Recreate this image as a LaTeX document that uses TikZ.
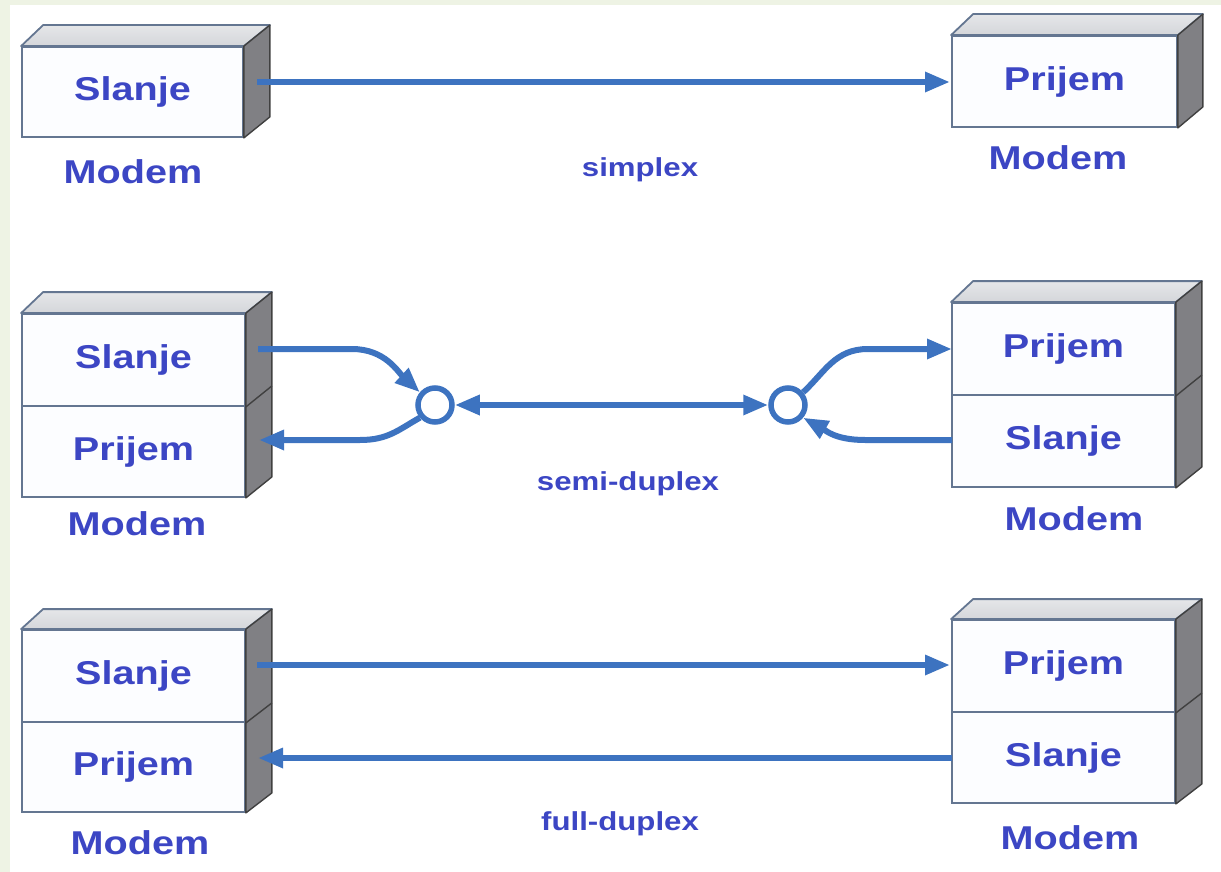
\documentclass[tikz,border=0pt]{standalone}
\usepackage{fontspec}
\setmainfont{Liberation Sans}
\newfontfamily\lblfont[FakeStretch=1.2]{Liberation Sans}
\usetikzlibrary{arrows.meta,calc}
\definecolor{textblue}{RGB}{60,70,196}
\definecolor{lineblue}{RGB}{61,115,192}
\definecolor{outline}{RGB}{100,118,145}
\definecolor{topc}{RGB}{212,214,218}
\definecolor{sidec}{RGB}{128,128,132}
\definecolor{frontc}{RGB}{252,253,255}
\definecolor{bgg}{RGB}{238,243,228}
\begin{document}
\begin{tikzpicture}[x=1pt,y=-1pt,
  comp/.style={draw=outline, line width=1.8pt, fill=frontc, minimum width=223pt,
    minimum height=91pt, inner sep=0pt, text=textblue,
    font=\lblfont\bfseries\fontsize{33}{38}\selectfont},
  modemlab/.style={text=textblue, inner sep=0pt, font=\lblfont\bfseries\fontsize{33}{38}\selectfont},
  modelab/.style={text=textblue, inner sep=0pt, font=\lblfont\bfseries\fontsize{26}{30}\selectfont},
  topface/.style={draw=outline, line width=1.8pt, top color=topc!60!white, bottom color=topc, line join=round},
  sideface/.style={draw=black!75, line width=1.4pt, fill=sidec, line join=round},
  tip/.style={-{Triangle[length=25pt,width=19pt]}},
  conn/.style={draw=lineblue, line width=6pt, tip},
  hub/.style={circle, draw=lineblue, line width=5.5pt, fill=white, minimum size=34pt, inner sep=0pt}
]
\useasboundingbox (0,0) rectangle (1221,872);
\fill[bgg] (0,0) rectangle (1221,5);
\fill[bgg] (0,0) rectangle (10,872);

% ---------- simplex ----------
\node[comp, minimum width=221pt, minimum height=90pt] (s1) at (132.5,92) {Slanje};
\filldraw[topface] (s1.north west) -- ++(22,-21) -- ($(s1.north east)+(26,-21)$) -- (s1.north east) -- cycle;
\filldraw[sideface] (s1.north east) -- ++(26,-21) -- ($(s1.south east)+(26,-21)$) -- (s1.south east) -- cycle;
\node[modemlab] (m1) at (133,172) {Modem};

\node[comp, minimum width=225pt, minimum height=91pt] (r1) at (1064.5,81.5) {Prijem};
\filldraw[topface] (r1.north west) -- ++(22,-21) -- ($(r1.north east)+(25,-21)$) -- (r1.north east) -- cycle;
\filldraw[sideface] (r1.north east) -- ++(25,-21) -- ($(r1.south east)+(25,-21)$) -- (r1.south east) -- cycle;
\node[modemlab] (m2) at (1058,158) {Modem};

\coordinate (a1s) at (257,82);
\coordinate (a1e) at (950,82);
\draw[conn] (a1s) -- (a1e);
\node[modelab] (l1) at (640,170) {simplex};

% ---------- semi-duplex ----------
\node[comp, minimum height=92pt] (s2) at (133.5,360) {Slanje};
\node[comp, minimum height=91pt] (p2) at (133.5,451.5) {Prijem};
\filldraw[topface] (s2.north west) -- ++(22,-21) -- ($(s2.north east)+(26,-21)$) -- (s2.north east) -- cycle;
\filldraw[sideface] (s2.north east) -- ++(26,-21) -- ($(p2.south east)+(26,-21)$) -- (p2.south east) -- cycle;
\draw[draw=black!75, line width=1.4pt] (s2.south east) -- ++(26,-21);
\node[modemlab] (m3) at (137,524) {Modem};

\node[comp, minimum height=92pt] (r3) at (1063.5,349) {Prijem};
\node[comp, minimum height=92pt] (t3) at (1063.5,441) {Slanje};
\filldraw[topface] (r3.north west) -- ++(22,-21) -- ($(r3.north east)+(26,-21)$) -- (r3.north east) -- cycle;
\filldraw[sideface] (r3.north east) -- ++(26,-21) -- ($(t3.south east)+(26,-21)$) -- (t3.south east) -- cycle;
\draw[draw=black!75, line width=1.4pt] (r3.south east) -- ++(26,-21);
\node[modemlab] (m4) at (1074,519) {Modem};

\node[hub] (c1) at (435,405) {};
\node[hub] (c2) at (788,405) {};

\coordinate (b1) at (258,349);
\coordinate (b2) at (259,440);
\coordinate (b3) at (952,349);
\coordinate (b4) at (952,440);

\draw[conn] (b1) -- (352,349) .. controls (385,349) and (398,372) .. (c1.140);
\draw[conn] (c1.220) .. controls (398,430) and (388,440) .. (360,440) -- (b2);
\draw[conn, {Triangle[length=25pt,width=19pt]}-{Triangle[length=25pt,width=19pt]}] (c1.east) -- (c2.west);
\draw[conn] (c2.40) .. controls (825,372) and (835,349) .. (868,349) -- (b3);
\draw[conn] (b4) -- (865,440) .. controls (835,440) and (825,430) .. (c2.320);
\node[modelab] (l2) at (628,484) {semi-duplex};

% ---------- full-duplex ----------
\node[comp, minimum height=92pt] (s4) at (133.5,676) {Slanje};
\node[comp, minimum height=90pt] (p4) at (133.5,767) {Prijem};
\filldraw[topface] (s4.north west) -- ++(22,-20) -- ($(s4.north east)+(26,-20)$) -- (s4.north east) -- cycle;
\filldraw[sideface] (s4.north east) -- ++(26,-20) -- ($(p4.south east)+(26,-20)$) -- (p4.south east) -- cycle;
\draw[draw=black!75, line width=1.4pt] (s4.south east) -- ++(26,-20);
\node[modemlab] (m5) at (140,843) {Modem};

\node[comp, minimum height=92pt] (r5) at (1063.5,666) {Prijem};
\node[comp, minimum height=91pt] (t5) at (1063.5,757.5) {Slanje};
\filldraw[topface] (r5.north west) -- ++(22,-20) -- ($(r5.north east)+(26,-20)$) -- (r5.north east) -- cycle;
\filldraw[sideface] (r5.north east) -- ++(26,-20) -- ($(t5.south east)+(26,-20)$) -- (t5.south east) -- cycle;
\draw[draw=black!75, line width=1.4pt] (r5.south east) -- ++(26,-20);
\node[modemlab] (m6) at (1070,838) {Modem};

\coordinate (d1) at (257,665);
\coordinate (d2) at (950,665);
\coordinate (d3) at (952,758);
\coordinate (d4) at (258,758);
\draw[conn] (d1) -- (d2);
\draw[conn] (d3) -- (d4);
\node[modelab] (l3) at (620,824) {full-duplex};
\end{tikzpicture}
\end{document}
